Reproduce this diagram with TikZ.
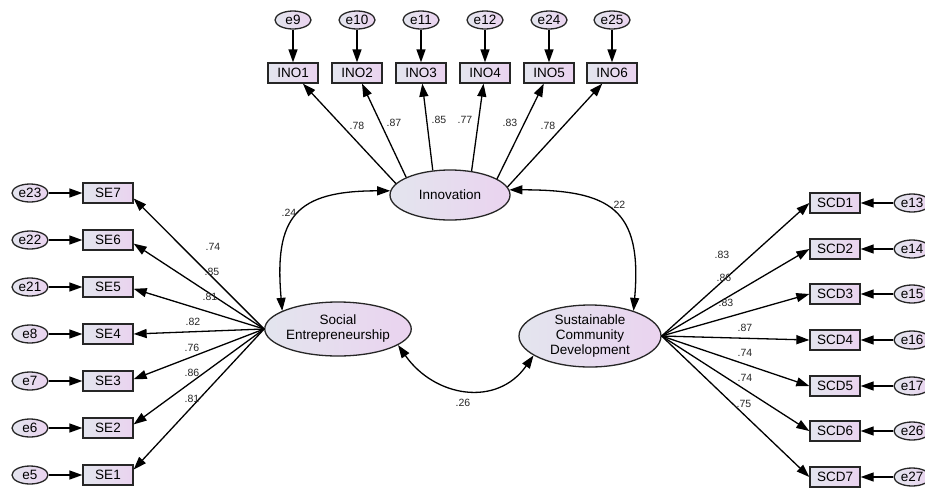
\documentclass[tikz,border=0pt]{standalone}
\usepackage{fontspec}
\setmainfont{Liberation Sans}
\usepackage{tikz}
\usetikzlibrary{shapes.geometric,arrows.meta}

\definecolor{shadeL}{HTML}{E3E5EE}
\definecolor{shadeR}{HTML}{EAD3EF}

\begin{document}
\begin{tikzpicture}[x=1pt,y=1pt,line width=1.3pt,
	lat/.style={shape=ellipse,draw=black!85,left color=shadeL,right color=shadeR,inner sep=0pt,align=center,font=\fontsize{13.5}{15}\selectfont},
	obs/.style={shape=rectangle,draw=black!85,left color=shadeL,right color=shadeR,inner sep=0pt,minimum width=50,minimum height=20,font=\fontsize{13.5}{14}\selectfont},
	err/.style={shape=ellipse,draw=black!85,left color=shadeL,right color=shadeR,inner sep=0pt,minimum width=36,minimum height=18,font=\fontsize{13.5}{14}\selectfont},
	load/.style={-{Triangle[length=13pt,width=9pt]}},
	cov/.style={{Triangle[length=13pt,width=9pt]}-{Triangle[length=13pt,width=9pt]}},
	lbl/.style={inner sep=0pt,text=black!85,font=\fontsize{10.5}{11}\selectfont}]
	\useasboundingbox (0,0) rectangle (925,-488);
	\node [lat,minimum width=120,minimum height=50] (inno) at (450,-195) {Innovation};
	\node [lat,minimum width=140,minimum height=54] (se) at (338,-329) {Social\\Entrepreneurship};
	\node [lat,minimum width=142,minimum height=62] (scd) at (590,-336) {Sustainable\\Community\\Development};
	\node [obs] (ino1) at (293,-73) {INO1};
	\node [obs] (ino2) at (357,-73) {INO2};
	\node [obs] (ino3) at (421,-73) {INO3};
	\node [obs] (ino4) at (485,-73) {INO4};
	\node [obs] (ino5) at (549,-73) {INO5};
	\node [obs] (ino6) at (612,-73) {INO6};
	\node [err] (e9) at (293,-20) {e9};
	\node [err] (e10) at (357,-20) {e10};
	\node [err] (e11) at (421,-20) {e11};
	\node [err] (e12) at (485,-20) {e12};
	\node [err] (e24) at (549,-20) {e24};
	\node [err] (e25) at (612,-20) {e25};
	\node [obs] (se7) at (108,-193) {SE7};
	\node [obs] (se6) at (108,-240) {SE6};
	\node [obs] (se5) at (108,-287) {SE5};
	\node [obs] (se4) at (108,-334) {SE4};
	\node [obs] (se3) at (108,-381) {SE3};
	\node [obs] (se2) at (108,-428) {SE2};
	\node [obs] (se1) at (108,-475) {SE1};
	\node [err] (e23) at (30,-193) {e23};
	\node [err] (e22) at (30,-240) {e22};
	\node [err] (e21) at (30,-287) {e21};
	\node [err] (e8) at (30,-334) {e8};
	\node [err] (e7) at (30,-381) {e7};
	\node [err] (e6) at (30,-428) {e6};
	\node [err] (e5) at (30,-475) {e5};
	\node [obs] (scd1) at (835,-203) {SCD1};
	\node [obs] (scd2) at (835,-249) {SCD2};
	\node [obs] (scd3) at (835,-294) {SCD3};
	\node [obs] (scd4) at (835,-340) {SCD4};
	\node [obs] (scd5) at (835,-386) {SCD5};
	\node [obs] (scd6) at (835,-431) {SCD6};
	\node [obs] (scd7) at (835,-477) {SCD7};
	\node [err] (e13) at (912,-203) {e13};
	\node [err] (e14) at (912,-249) {e14};
	\node [err] (e15) at (912,-294) {e15};
	\node [err] (e16) at (912,-340) {e16};
	\node [err] (e17) at (912,-386) {e17};
	\node [err] (e26) at (912,-431) {e26};
	\node [err] (e27) at (912,-477) {e27};
	\draw [load] (e9) to (ino1);
	\draw [load] (e10) to (ino2);
	\draw [load] (e11) to (ino3);
	\draw [load] (e12) to (ino4);
	\draw [load] (e24) to (ino5);
	\draw [load] (e25) to (ino6);
	\draw [load] (e23) to (se7);
	\draw [load] (e22) to (se6);
	\draw [load] (e21) to (se5);
	\draw [load] (e8) to (se4);
	\draw [load] (e7) to (se3);
	\draw [load] (e6) to (se2);
	\draw [load] (e5) to (se1);
	\draw [load] (e13) to (scd1);
	\draw [load] (e14) to (scd2);
	\draw [load] (e15) to (scd3);
	\draw [load] (e16) to (scd4);
	\draw [load] (e17) to (scd5);
	\draw [load] (e26) to (scd6);
	\draw [load] (e27) to (scd7);
	\draw [load] (inno.168) to (ino1);
	\draw [load] (inno.158) to (ino2);
	\draw [load] (inno.125) to (ino3);
	\draw [load] (inno.48) to (ino4);
	\draw [load] (inno.19) to (ino5);
	\draw [load] (inno.8) to (ino6);
	\draw [load] (se.west) to (se7.-12);
	\draw [load] (se.west) to (se6.-8);
	\draw [load] (se.west) to (se5.-4);
	\draw [load] (se.west) to (se4.east);
	\draw [load] (se.west) to (se3.4);
	\draw [load] (se.west) to (se2.8);
	\draw [load] (se.west) to (se1.12);
	\draw [load] (scd.east) to (scd1.west);
	\draw [load] (scd.east) to (scd2.west);
	\draw [load] (scd.east) to (scd3.west);
	\draw [load] (scd.east) to (scd4.west);
	\draw [load] (scd.east) to (scd5.west);
	\draw [load] (scd.east) to (scd6.west);
	\draw [load] (scd.east) to (scd7.west);
	\draw [cov, out=180, in=95, looseness=1.5] (inno.176) to (se.162);
	\draw [cov, out=0, in=85, looseness=1.5] (inno.5) to (scd.30);
	\draw [cov, out=-55, in=-125, looseness=1.2] (se.-15) to (scd.-161);
	\node [lbl] (l1) at (357,-126) {.78};
	\node [lbl] (l2) at (394,-123) {.87};
	\node [lbl] (l3) at (439,-120) {.85};
	\node [lbl] (l4) at (465,-120) {.77};
	\node [lbl] (l5) at (510,-123) {.83};
	\node [lbl] (l6) at (548,-126) {.78};
	\node [lbl] (l7) at (213,-247) {.74};
	\node [lbl] (l8) at (212,-272) {.85};
	\node [lbl] (l9) at (210,-297) {.81};
	\node [lbl] (l10) at (193,-322) {.82};
	\node [lbl] (l11) at (192,-348) {.76};
	\node [lbl] (l12) at (192,-373) {.86};
	\node [lbl] (l13) at (192,-399) {.81};
	\node [lbl] (l14) at (722,-255) {.83};
	\node [lbl] (l15) at (724,-278) {.86};
	\node [lbl] (l16) at (726,-303) {.83};
	\node [lbl] (l17) at (745,-328) {.87};
	\node [lbl] (l18) at (745,-353) {.74};
	\node [lbl] (l19) at (745,-378) {.74};
	\node [lbl] (l20) at (744,-404) {.75};
	\node [lbl] (c1) at (289,-213) {.24};
	\node [lbl] (c2) at (618,-205) {.22};
	\node [lbl] (c3) at (463,-403) {.26};
\end{tikzpicture}
\end{document}
